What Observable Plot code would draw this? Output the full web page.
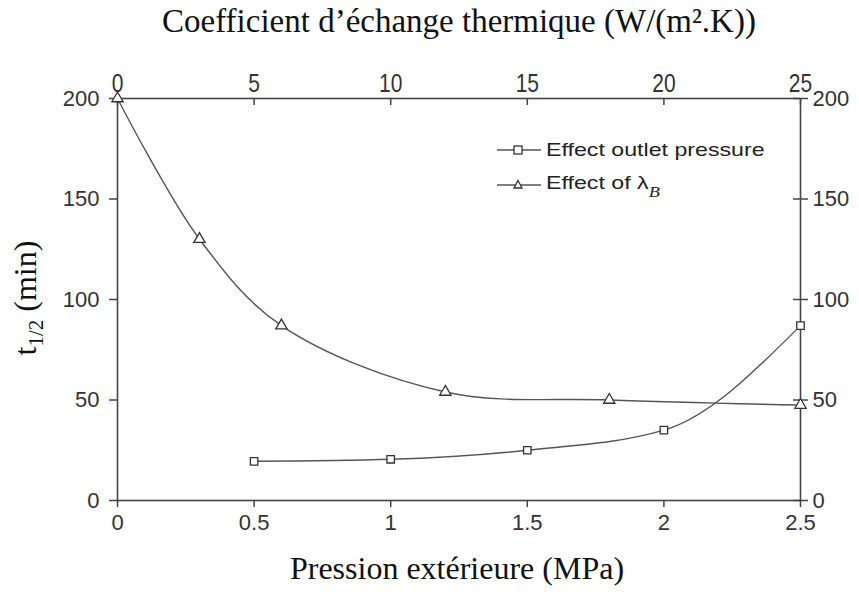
<!DOCTYPE html>
<html><head><meta charset="utf-8">
<script src="https://cdn.jsdelivr.net/npm/d3@7"></script>
<script src="https://cdn.jsdelivr.net/npm/@observablehq/plot@0.6"></script>
<style>
body{margin:0;background:#fff;}
#wrap{position:relative;width:859px;height:594px;overflow:hidden;}
.ser{position:absolute;font-family:"Liberation Serif","Times New Roman",serif;color:#111;white-space:nowrap;line-height:1;}
.leg{position:absolute;font-family:"Liberation Sans",Arial,sans-serif;font-size:19px;color:#222;white-space:nowrap;display:flex;align-items:center;}
.leg span.t{display:inline-block;transform:scaleX(1.22);transform-origin:left center;}
</style></head>
<body><div id="wrap"></div>
<script>
// Data
const pressure = [0.5, 1, 1.5, 2, 2.5];          // MPa (bottom axis)
const tOutlet = [19.5, 20.5, 25, 35, 87];         // t1/2 (min)
const lambdaB = [0, 3, 6, 12, 18, 25];            // W/(m².K) (top axis)
const tLambda = [200, 130, 87, 54, 50, 47.5];     // t1/2 (min)
const xTicks = [0, 0.5, 1, 1.5, 2, 2.5];
const topTicks = [0, 5, 10, 15, 20, 25];
const yTicks = [0, 50, 100, 150, 200];

const W = 859, H = 594, mL = 117, mR = 59, mT = 98, mB = 94;
const pw = W - mL - mR, ph = H - mT - mB;

const outlet = pressure.map((p, i) => ({x: p, y: tOutlet[i]}));
const lam = lambdaB.map((l, i) => ({x: l / 10, y: tLambda[i]}));

const axisCol = "#444";
const sans = "'Liberation Sans', Arial, sans-serif";
const plot = Plot.plot({
  width: W, height: H,
  marginLeft: mL, marginRight: mR, marginTop: mT, marginBottom: mB,
  x: {domain: [0, 2.5]},
  y: {domain: [0, 200]},
  style: {fontSize: "22px", fontFamily: sans, color: "#333", background: "#fff"},
  marks: [
    Plot.frame({stroke: axisCol, strokeWidth: 1.6}),
    Plot.axisX({anchor: "bottom", ticks: xTicks, tickFormat: d => String(d), tickSize: 7, tickPadding: 7, label: null, stroke: axisCol, strokeWidth: 1.5, fontSize: 22}),
    Plot.axisX({anchor: "top", ticks: topTicks.map(d => d / 10), tickFormat: d => String(Math.round(d * 10)), tickSize: 0, tickPadding: 7, label: null, fontSize: 25}),
    Plot.ruleX(topTicks, {x: d => d / 10, insetBottom: ph - 7, stroke: axisCol, strokeWidth: 1.5}),
    Plot.axisY({anchor: "left", ticks: yTicks, tickSize: 8, tickPadding: 10, label: null, stroke: axisCol, strokeWidth: 1.5, fontSize: 22}),
    Plot.axisY({anchor: "right", ticks: yTicks, tickSize: 7, tickPadding: 5, label: null, stroke: axisCol, strokeWidth: 1.5, fontSize: 22}),
    Plot.ruleY(yTicks, {y: d => d, insetLeft: pw - 7, stroke: axisCol, strokeWidth: 1.5}),
    Plot.line(lam, {x: "x", y: "y", curve: "catmull-rom", stroke: "#555", strokeWidth: 1.4}),
    Plot.line(outlet, {x: "x", y: "y", curve: "monotone-x", stroke: "#555", strokeWidth: 1.4}),
    Plot.dot(lam, {x: "x", y: "y", symbol: "triangle", r: 4.2, stroke: "#333", fill: "white", strokeWidth: 1.3}),
    Plot.dot(outlet, {x: "x", y: "y", symbol: "square", r: 4.2, stroke: "#333", fill: "white", strokeWidth: 1.3})
  ]
});
const wrap = document.getElementById("wrap");
wrap.appendChild(plot);

// condense the top-axis tick labels (narrow typeface in the original)
const svgTop = plot.getBoundingClientRect().top;
plot.querySelectorAll("text").forEach(function (el) {
  const r = el.getBoundingClientRect();
  if (r.bottom - svgTop > mT || r.top - svgTop < 50) return;
  const bb = el.getBBox();
  let cx = bb.x + bb.width / 2;
  const m = /translate\(([-\d.e]+)[ ,]*([-\d.e]*)\)/.exec(el.getAttribute("transform") || "");
  if (m) cx += +m[1];
  const g = document.createElementNS("http://www.w3.org/2000/svg", "g");
  g.setAttribute("transform", `translate(${cx},0) scale(0.84,1) translate(${-cx},0)`);
  el.parentNode.insertBefore(g, el);
  g.appendChild(el);
});

function addDiv(cls, html, css) {
  const d = document.createElement("div");
  d.className = cls; d.innerHTML = html; d.style.cssText = css; wrap.appendChild(d); return d;
}
addDiv("ser", "Coefficient d’échange thermique (W/(m².K))", "left:459px;top:5px;transform:translateX(-50%);font-size:33px;");
addDiv("ser", "Pression extérieure (MPa)", "left:457px;top:552px;transform:translateX(-50%);font-size:32px;");
addDiv("ser", "t<sub style='font-size:21px;vertical-align:-0.3em'>1/2</sub> (min)", "left:28px;top:298px;transform:translate(-50%,-50%) rotate(-90deg);font-size:32px;");

function legSym(sym) {
  const s = sym === "square"
    ? "<rect x='17' y='7' width='8' height='8' fill='white' stroke='#333' stroke-width='1.3'/>"
    : "<path d='M21,6.5 L25,14 L17,14 Z' fill='white' stroke='#333' stroke-width='1.3'/>";
  return `<svg width='44' height='22' style='margin-right:5px'><line x1='0' y1='11' x2='44' y2='11' stroke='#555' stroke-width='1.4'/>${s}</svg>`;
}
addDiv("leg", legSym("square") + "<span class='t'>Effect outlet pressure</span>", "left:497px;top:139px;");
addDiv("leg", legSym("triangle") + "<span class='t'>Effect of λ<sub style='font-family:\"Liberation Serif\",serif;font-style:italic;font-size:15px;position:relative;top:3px'>B</sub></span>", "left:497px;top:172px;");
</script></body></html>
